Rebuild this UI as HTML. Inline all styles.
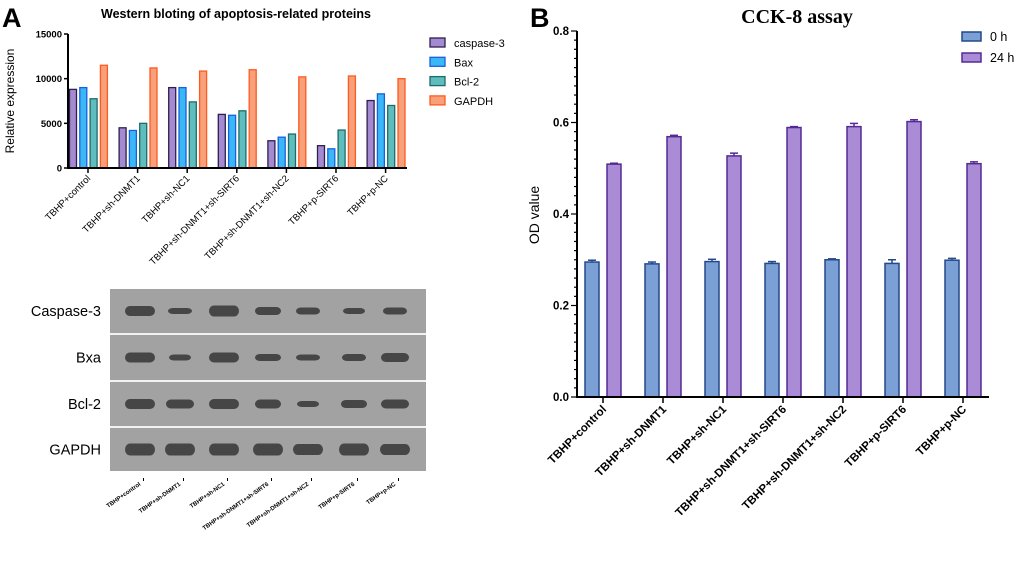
<!DOCTYPE html>
<html><head><meta charset="utf-8"><style>
html,body{margin:0;padding:0;background:#fff;}
svg{display:block;font-family:"Liberation Sans",sans-serif;}
</style></head><body>
<svg id="fig" width="1020" height="572" viewBox="0 0 1020 572">
<text x="2" y="27" font-size="27" font-weight="bold">A</text>
<text x="236" y="18" font-size="12.5" font-weight="bold" text-anchor="middle">Western bloting of apoptosis-related proteins</text>
<text transform="translate(14,101) rotate(-90)" font-size="12" text-anchor="middle">Relative expression</text>
<g id="gA"></g>
<g id="blot"></g>
<text x="530" y="27" font-size="27" font-weight="bold">B</text>
<text x="797" y="23" font-size="20" font-weight="bold" text-anchor="middle" font-family="Liberation Serif,serif">CCK-8 assay</text>
<text transform="translate(539,215) rotate(-90)" font-size="14" text-anchor="middle">OD value</text>
<g id="gB"></g>
</svg>
<script>
const categories = ["TBHP+control","TBHP+sh-DNMT1","TBHP+sh-NC1","TBHP+sh-DNMT1+sh-SIRT6","TBHP+sh-DNMT1+sh-NC2","TBHP+p-SIRT6","TBHP+p-NC"];
const seriesA = ["caspase-3","Bax","Bcl-2","GAPDH"];
const caspase3 = [8800,4500,9000,6000,3050,2500,7550];
const bax = [9000,4200,9000,5900,3450,2150,8300];
const bcl2 = [7750,5000,7400,6400,3800,4250,7000];
const gapdh = [11500,11200,10850,11000,10200,10300,10000];
const ticksA = [0,5000,10000,15000];
const seriesB = ["0 h","24 h"];
const od0h = [0.295,0.291,0.296,0.292,0.300,0.292,0.299];
const od24h = [0.509,0.569,0.527,0.589,0.591,0.602,0.510];
const err0h = [0.004,0.004,0.005,0.004,0.002,0.008,0.004];
const err24h = [0.002,0.003,0.006,0.002,0.007,0.004,0.004];
const ticksB = [0.0,0.2,0.4,0.6,0.8];
const blotRows = ["Caspase-3","Bxa","Bcl-2","GAPDH"];

const NS="http://www.w3.org/2000/svg";
function mk(parent,tag,attrs,text){const e=document.createElementNS(NS,tag);for(const k in attrs)e.setAttribute(k,attrs[k]);if(text!==undefined)e.textContent=text;parent.appendChild(e);return e;}

// Panel A
const gA=document.getElementById('gA');
const yA=v=>168-v/15000*134;
const xA=i=>88+i*49.6;
const colsA=[["#a48ad0","#2e1f4f"],["#3ab7f5","#1a5fe0"],["#5fbdbd","#1e6b6b"],["#f7a07a","#ff5a1e"]];
const dataA=[caspase3,bax,bcl2,gapdh];
const offA=[-15,-4.7,5.6,15.9];
dataA.forEach((arr,s)=>arr.forEach((v,i)=>{
  const r=mk(gA,'rect',{x:xA(i)+offA[s]-3.5,y:yA(v),width:7,height:168-yA(v),fill:colsA[s][0],stroke:colsA[s][1],'stroke-width':1.3});
  
  
}));
mk(gA,'line',{x1:68,y1:34,x2:68,y2:169,stroke:'#000','stroke-width':2});
mk(gA,'line',{x1:67,y1:168,x2:407,y2:168,stroke:'#000','stroke-width':2});
ticksA.forEach(t=>{mk(gA,'line',{x1:64,y1:yA(t),x2:68,y2:yA(t),stroke:'#000','stroke-width':1.5});
  const tx=mk(gA,'text',{x:62,y:yA(t)+3.5,'font-size':9.5,'font-weight':'bold','text-anchor':'end'},String(t));
  });
categories.forEach((c,i)=>{mk(gA,'line',{x1:xA(i),y1:168,x2:xA(i),y2:173,stroke:'#000','stroke-width':1.5});
  const tx=mk(gA,'text',{transform:`translate(${xA(i)+3},${179}) rotate(-45)`,'font-size':9.5,'text-anchor':'end'},c);
  });
seriesA.forEach((s,k)=>{const g=mk(gA,'g',{});
  
  mk(g,'rect',{x:430,y:38+k*19.3,width:15,height:9,fill:colsA[k][0],stroke:colsA[k][1],'stroke-width':1.3});
  mk(g,'text',{x:454,y:47+k*19.3,'font-size':11},s);});

// Western blot
const bl=document.getElementById('blot');
mk(bl,'rect',{x:110,y:289,width:316,height:182,fill:'#a2a2a2'});
const rowsY=[[289,333],[335,380],[382,426],[428,471]];
[333,380,426].forEach(y=>mk(bl,'rect',{x:110,y:y,width:316,height:2,fill:'#f2f2f2'}));
const bandX=[140,180,224,268,308,354,395];
const bandW=[[30,24,30,26,24,22,24],[30,22,30,26,24,24,28],[30,28,30,26,22,26,28],[30,30,30,30,30,30,30]];
const bandH=[[10,6,11,8,7,6,7],[10,6,10,7,6,7,9],[10,9,10,9,6,8,9],[12,12,12,12,11,12,11]];
rowsY.forEach((r,k)=>{const cy=(r[0]+r[1])/2;
  const lab=mk(bl,'text',{x:101,y:cy+5,'font-size':14.5,'text-anchor':'end'},blotRows[k]);
  
  bandX.forEach((x,i)=>mk(bl,'rect',{x:x-bandW[k][i]/2,y:cy-bandH[k][i]/2,width:bandW[k][i],height:bandH[k][i],rx:5,ry:bandH[k][i]/2,fill:'#3c3c3c',opacity:0.9}));});
categories.forEach((c,i)=>{mk(bl,'rect',{x:bandX[i]+3,y:478,width:1,height:3,fill:'#000'});
  const tx=mk(bl,'text',{transform:`translate(${bandX[i]+1},${485}) rotate(-35)`,'font-size':6,'font-weight':'bold','text-anchor':'end'},c);
  });

// Panel B
const gB=document.getElementById('gB');
const yB=v=>397-v/0.8*366;
const xB=i=>603+i*60;
const colsB=[["#7ba0d6","#24498a"],["#a98bd6","#532a96"]];
[od0h,od24h].forEach((arr,s)=>{const er=s?err24h:err0h;arr.forEach((v,i)=>{
  const x=xB(i)+(s?11:-11);
  const r=mk(gB,'rect',{x:x-7,y:yB(v),width:14,height:397-yB(v),fill:colsB[s][0],stroke:colsB[s][1],'stroke-width':1.5});
  
  mk(gB,'line',{x1:x,y1:yB(v),x2:x,y2:yB(v+er[i]),stroke:colsB[s][1],'stroke-width':1.5});
  mk(gB,'line',{x1:x-4,y1:yB(v+er[i]),x2:x+4,y2:yB(v+er[i]),stroke:colsB[s][1],'stroke-width':1.5});});});
mk(gB,'line',{x1:577,y1:31,x2:577,y2:398,stroke:'#000','stroke-width':2});
mk(gB,'line',{x1:576,y1:397,x2:989,y2:397,stroke:'#000','stroke-width':2});
for(let k=0;k<=40;k++){const v=k*0.02;mk(gB,'line',{x1:k%10===0?571:574,y1:yB(v),x2:577,y2:yB(v),stroke:'#000','stroke-width':1.2});}
ticksB.forEach(t=>{const tx=mk(gB,'text',{x:569,y:yB(t)+4,'font-size':11.5,'font-weight':'bold','text-anchor':'end'},t.toFixed(1));
  });
categories.forEach((c,i)=>{mk(gB,'line',{x1:xB(i),y1:397,x2:xB(i),y2:403,stroke:'#000','stroke-width':1.5});
  const tx=mk(gB,'text',{transform:`translate(${xB(i)+4},${410}) rotate(-45)`,'font-size':11.5,'font-weight':'bold','text-anchor':'end'},c);
  });
seriesB.forEach((s,k)=>{const g=mk(gB,'g',{});
  
  mk(g,'rect',{x:962,y:32+k*21,width:19,height:9,fill:colsB[k][0],stroke:colsB[k][1],'stroke-width':1.5});
  mk(g,'text',{x:990,y:41+k*21,'font-size':12.5},s);});
</script>
</body></html>
